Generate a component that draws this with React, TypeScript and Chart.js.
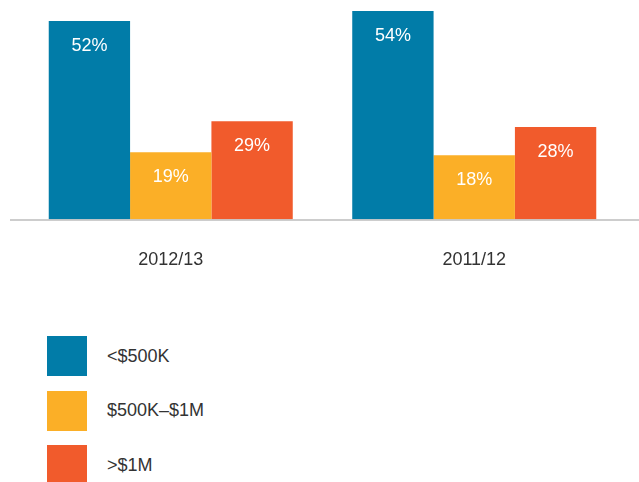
import React, { useEffect, useRef } from "react";
import { Chart, registerables } from "chart.js";

Chart.register(...registerables);

const categories = ["2012/13", "2011/12"];
const seriesNames = ["<$500K", "$500K–$1M", ">$1M"];
const seriesColors = ["#017CA8", "#FBAF27", "#F15B2C"];
// bar lengths as drawn in the picture (percent units)
const under500k = [52, 54.6];
const from500kTo1m = [17.6, 16.8];
const over1m = [25.7, 24.2];
// printed labels on the bars
const under500kLabels = ["52%", "54%"];
const from500kTo1mLabels = ["19%", "18%"];
const over1mLabels = ["29%", "28%"];

const FONT = "'Liberation Sans', 'Helvetica Neue', Arial, sans-serif";

const barLabelPlugin = {
  id: "barLabels",
  afterDatasetsDraw(chart: any) {
    const ctx = chart.ctx;
    const yScale = chart.scales.y;
    const zeroY = yScale.getPixelForValue(0);
    ctx.save();
    // baseline
    ctx.strokeStyle = "#bdbdbd";
    ctx.lineWidth = 1.5;
    ctx.beginPath();
    ctx.moveTo(10, zeroY + 0.5);
    ctx.lineTo(chart.width, zeroY + 0.5);
    ctx.stroke();
    // labels
    ctx.fillStyle = "#ffffff";
    ctx.font = `18px ${FONT}`;
    ctx.textAlign = "center";
    ctx.textBaseline = "middle";
    chart.data.datasets.forEach((ds: any, i: number) => {
      const meta = chart.getDatasetMeta(i);
      meta.data.forEach((bar: any, j: number) => {
        ctx.fillText(ds.printed[j], bar.x, bar.y + 25);
      });
    });
    ctx.restore();
  },
};

export default function App() {
  const canvasRef = useRef<HTMLCanvasElement | null>(null);

  useEffect(() => {
    if (!canvasRef.current) return;
    const values = [under500k, from500kTo1m, over1m];
    const printed = [under500kLabels, from500kTo1mLabels, over1mLabels];
    const chart = new Chart(canvasRef.current, {
      type: "bar",
      data: {
        labels: categories,
        datasets: seriesNames.map((name, i) => ({
          label: name,
          data: values[i],
          backgroundColor: seriesColors[i],
          borderWidth: 0,
          categoryPercentage: 0.804,
          barPercentage: 1,
          printed: printed[i],
        })) as any,
      },
      options: {
        animation: false,
        responsive: false,
        maintainAspectRatio: false,
        layout: { padding: { left: 19, right: 13, top: 0, bottom: 0 } },
        plugins: { legend: { display: false }, tooltip: { enabled: false } },
        scales: {
          x: {
            grid: { display: false, drawTicks: false },
            border: { display: false },
            ticks: {
              color: "#333333",
              font: { family: FONT, size: 18 },
              padding: 30,
            },
          },
          y: {
            display: false,
            min: 0,
            max: 57.5,
          },
        },
      },
      plugins: [barLabelPlugin],
    });
    return () => chart.destroy();
  }, []);

  return (
    <div
      style={{
        position: "absolute",
        left: 0,
        top: 0,
        width: 639,
        height: 482,
        background: "#ffffff",
        overflow: "hidden",
        fontFamily: FONT,
      }}
    >
      <canvas ref={canvasRef} width={639} height={301} style={{ display: "block" }} />
      {seriesNames.map((name, i) => (
        <div
          key={name}
          style={{
            position: "absolute",
            left: 47,
            top: 336 + i * 54.5,
            height: 40,
            display: "flex",
            alignItems: "center",
          }}
        >
          <div style={{ width: 40, height: 40, background: seriesColors[i] }} />
          <span style={{ marginLeft: 20, fontSize: 18, color: "#333333" }}>{name}</span>
        </div>
      ))}
    </div>
  );
}
